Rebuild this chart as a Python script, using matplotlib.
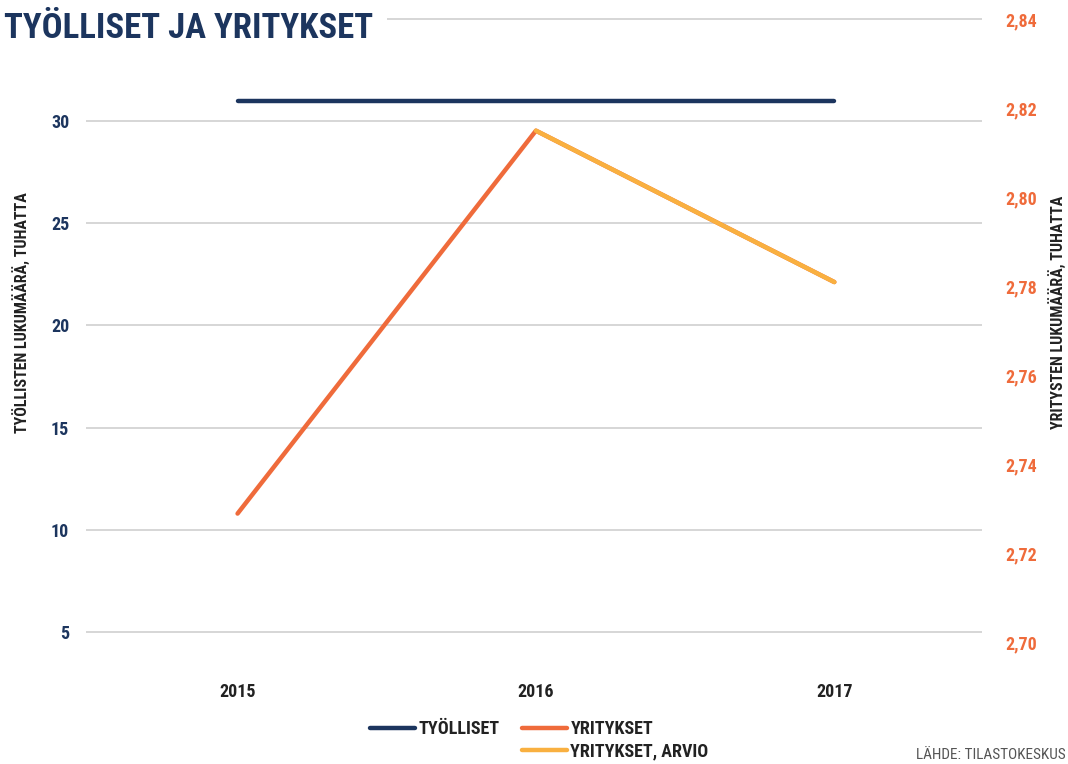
import matplotlib
matplotlib.use('Agg')
from matplotlib import pyplot as plt
from matplotlib import font_manager
from matplotlib.lines import Line2D
import numpy as np

# datat kuvasta luettuna
vuodet = ['2015', '2016', '2017']
tyolliset = [31.0, 31.0, 31.0]               # tuhatta, vasen akseli
yritykset = [2.729, 2.815, 2.781]            # tuhatta, oikea akseli
yritykset_arvio = [np.nan, 2.815, 2.781]
vasen_tikit = [5, 10, 15, 20, 25, 30]
oikea_tikit = [2.70, 2.72, 2.74, 2.76, 2.78, 2.80, 2.82, 2.84]

NAVY = '#1c355e'
ORANSSI = '#ef6b3b'
KELTAINEN = '#f9b040'
HARMAA = '#d3d3d3'


def pick_font(names):
    for n in names:
        try:
            font_manager.findfont(n, fallback_to_default=False)
            return n
        except Exception:
            pass
    return 'DejaVu Sans'


FONT = pick_font(['Liberation Sans Narrow', 'Roboto Condensed', 'Liberation Sans'])
plt.rcParams['font.family'] = [FONT, 'DejaVu Sans']
plt.rcParams['font.weight'] = 'bold'

fig = plt.figure(figsize=(10.68, 7.64), dpi=100)
ax = fig.add_axes([0.0805, 0.157, 0.839, 0.8194])
ax2 = ax.twinx()

x = np.arange(len(vuodet))

# gridit vasemman akselin mukaan
for v in vasen_tikit + [35]:
    ax.axhline(v, color=HARMAA, lw=1.3, zorder=0)

ax.plot(x, tyolliset, color=NAVY, lw=3.2, solid_capstyle='round', zorder=3)
ax2.plot(x, yritykset, color=ORANSSI, lw=3.2, solid_capstyle='round', zorder=3)
ax2.plot(x, yritykset_arvio, color=KELTAINEN, lw=3.2, solid_capstyle='round', zorder=4)

ax.set_xlim(-0.508, 2.495)
ax.set_ylim(4.41, 35.04)
ax2.set_ylim(2.70 - 0.0003, 2.8403)

ax.set_xticks(x)
ax.set_xticklabels(vuodet)
ax.set_yticks(vasen_tikit)
ax.set_yticklabels([str(v) for v in vasen_tikit])
ax2.set_yticks(oikea_tikit)
ax2.set_yticklabels([('%.2f' % v).replace('.', ',') for v in oikea_tikit])

ax.tick_params(axis='x', length=0, pad=28, labelsize=13, labelcolor='#222222')
ax.tick_params(axis='y', length=0, pad=12, labelsize=13, labelcolor=NAVY)
ax2.tick_params(axis='y', length=0, pad=17, labelsize=13, labelcolor=ORANSSI)

for a in (ax, ax2):
    for s in a.spines.values():
        s.set_visible(False)

ax.set_ylabel('TYÖLLISTEN LUKUMÄÄRÄ, TUHATTA', fontsize=11.5, color='#222222',
              fontweight='bold')
ax.yaxis.set_label_coords(-0.062, 0.53)
ax2.set_ylabel('YRITYSTEN LUKUMÄÄRÄ, TUHATTA', fontsize=11.5, color='#222222',
               fontweight='bold', rotation=90)
ax2.yaxis.set_label_coords(1.074, 0.53)

# otsikko valkoisella taustalla (peittää ylimmän gridin alun)
fig.text(0.004, 0.963, 'TYÖLLISET JA YRITYKSET', fontsize=25, color=NAVY,
         ha='left', va='center',
         bbox=dict(facecolor='white', edgecolor='none', pad=10))

kahvat = [
    Line2D([], [], color=NAVY, lw=3.2, solid_capstyle='round'),
    Line2D([], [], color='none'),
    Line2D([], [], color=ORANSSI, lw=3.2, solid_capstyle='round'),
    Line2D([], [], color=KELTAINEN, lw=3.2, solid_capstyle='round'),
]
nimet = ['TYÖLLISET', '', 'YRITYKSET', 'YRITYKSET, ARVIO']
fig.legend(kahvat, nimet, ncol=2, loc='center', bbox_to_anchor=(0.505, 0.031),
           frameon=False, fontsize=13, handlelength=2.5, handletextpad=0.2,
           columnspacing=1.2, labelspacing=0.25, labelcolor='#222222')

fig.text(0.998, 0.012, 'LÄHDE: TILASTOKESKUS', fontsize=11, color='#555555',
         fontweight='normal', ha='right', va='center')

fig.savefig('out.png', dpi=100)
